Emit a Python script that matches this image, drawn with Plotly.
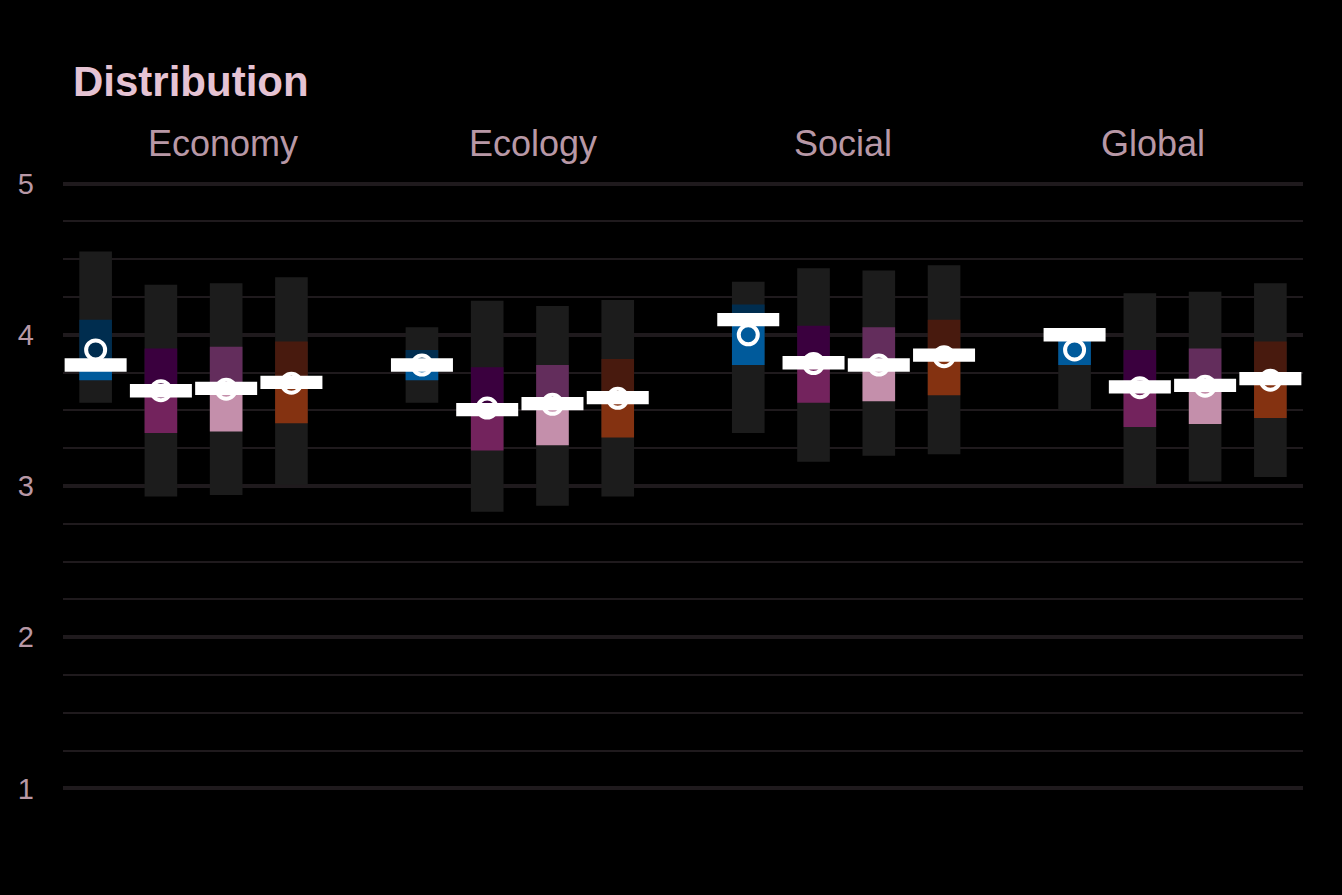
"""Distribution chart: range, quartile boxes, median bar and mean marker"""
import plotly.graph_objects as go

# ------------------------------------------------------------------  #
# Data (rows = series, columns = dimensions)
dimensions = ["Economy", "Ecology", "Social", "Global"]
series = ["Group 1", "Group 2", "Group 3", "Group 4"]

val_min = [[3.55, 3.55, 3.35, 3.50],
           [2.93, 2.83, 3.16, 3.00],
           [2.94, 2.87, 3.20, 3.03],
           [3.01, 2.93, 3.21, 3.06]]
val_q1 = [[3.70, 3.70, 3.80, 3.80],
          [3.35, 3.235, 3.55, 3.39],
          [3.36, 3.27, 3.56, 3.41],
          [3.415, 3.32, 3.60, 3.45]]
val_median = [[3.80, 3.80, 4.10, 4.00],
              [3.63, 3.505, 3.815, 3.655],
              [3.645, 3.545, 3.80, 3.665],
              [3.685, 3.585, 3.865, 3.71]]
val_q3 = [[4.10, 3.90, 4.20, 4.00],
          [3.91, 3.785, 4.06, 3.90],
          [3.92, 3.80, 4.05, 3.91],
          [3.955, 3.84, 4.10, 3.955]]
val_max = [[4.55, 4.05, 4.35, 4.00],
           [4.33, 4.225, 4.44, 4.275],
           [4.34, 4.19, 4.425, 4.285],
           [4.38, 4.23, 4.46, 4.34]]
val_mean = [[3.90, 3.80, 4.00, 3.90],
            [3.63, 3.515, 3.81, 3.65],
            [3.64, 3.54, 3.80, 3.66],
            [3.68, 3.58, 3.855, 3.70]]

# ------------------------------------------------------------------  #
# Styling
colors_upper = ["#002D4F", "#3A003E", "#632D5C", "#481A0E"]
colors_lower = ["#005A9B", "#73235D", "#C48FAB", "#843211"]
range_color = "#1C1C1C"
grid_color = "#1F1A1D"
title_color = "#E5C3D3"
label_color = "#B898A6"
median_height = 0.088

fig = go.Figure()

for s in range(len(series)):
    # x slot: 4 series per dimension, one empty slot between dimensions
    xs = [d * (len(series) + 1) + s for d in range(len(dimensions))]
    mins, q1s, meds = val_min[s], val_q1[s], val_median[s]
    q3s, maxs, means = val_q3[s], val_max[s], val_mean[s]

    # full range
    fig.add_trace(go.Bar(x=xs, y=[b - a for a, b in zip(mins, maxs)], base=mins,
                         width=0.5, marker=dict(color=range_color, line_width=0),
                         name=series[s], showlegend=False, hoverinfo="skip"))
    # median -> Q3
    fig.add_trace(go.Bar(x=xs, y=[b - a for a, b in zip(meds, q3s)], base=meds,
                         width=0.5, marker=dict(color=colors_upper[s], line_width=0),
                         showlegend=False, hoverinfo="skip"))
    # Q1 -> median
    fig.add_trace(go.Bar(x=xs, y=[b - a for a, b in zip(q1s, meds)], base=q1s,
                         width=0.5, marker=dict(color=colors_lower[s], line_width=0),
                         showlegend=False, hoverinfo="skip"))
    # median bar
    fig.add_trace(go.Bar(x=xs, y=[median_height] * len(meds),
                         base=[m - median_height / 2 for m in meds],
                         width=0.95, marker=dict(color="white", line_width=0),
                         showlegend=False, hoverinfo="skip"))
    # mean
    fig.add_trace(go.Scatter(x=xs, y=means, mode="markers",
                             marker=dict(symbol="circle", size=19,
                                         color="rgba(0,0,0,0)",
                                         line=dict(color="white", width=4)),
                             name=series[s], showlegend=False))

# ------------------------------------------------------------------  #
# Dimension titles
for i, dim in enumerate(dimensions):
    fig.add_annotation(text=dim, x=(i + 0.5) / len(dimensions), xref="paper",
                       xanchor="center", xshift=5, y=1, yref="paper", yshift=36,
                       yanchor="middle", showarrow=False,
                       font=dict(size=36, color=label_color,
                                 family="Liberation Sans"))

fig.update_layout(
    width=1342, height=895,
    barmode="overlay",
    paper_bgcolor="black", plot_bgcolor="black",
    margin=dict(l=63, r=39, t=179, b=102),
    font=dict(family="Liberation Sans", color=label_color),
    title=dict(text="<b>Distribution</b>", x=73 / 1342, xanchor="left",
               xref="container", yref="container", y=1 - 81 / 895,
               yanchor="middle", font=dict(size=42, color=title_color)),
    xaxis=dict(range=[-0.5, 18.5], showgrid=False, zeroline=False,
               showticklabels=False, fixedrange=True),
    yaxis=dict(range=[0.97, 5.03], dtick=1, tick0=1, showgrid=True,
               gridcolor=grid_color, gridwidth=4, zeroline=False,
               tickfont=dict(size=29, color=label_color),
               ticklabelstandoff=28, fixedrange=True,
               minor=dict(dtick=0.25, tick0=1, showgrid=True, gridcolor=grid_color,
                          gridwidth=2)),
)

fig.write_html("out.html", config={"displayModeBar": False},
               post_script="document.body.style.margin='0';"
                           "document.body.style.background='black';")
